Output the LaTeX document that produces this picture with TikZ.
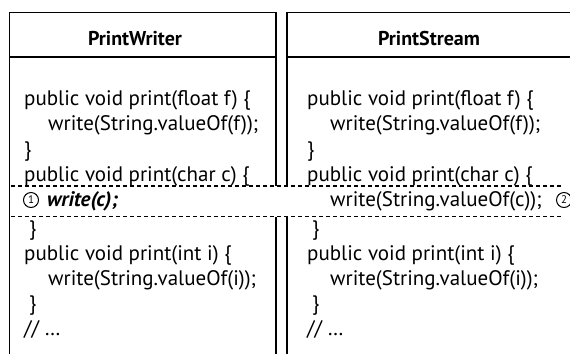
\documentclass[tikz,border=0pt]{standalone}
\usepackage{fontspec}
\setmainfont{PT Sans}
\begin{document}
\begin{tikzpicture}[x=1pt,y=-1pt,
  code/.style={anchor=base west, inner sep=0pt, font=\fontsize{21}{25}\selectfont},
  head/.style={anchor=base, inner sep=0pt, font=\fontsize{20}{24}\selectfont\bfseries},
  frame/.style={line width=1.8pt},
  bandline/.style={dash pattern=on 4pt off 3pt, line width=1.2pt},
  num/.style={circle, draw, line width=1pt, inner sep=0pt, minimum size=15pt, fill=white,
    font=\fontsize{11}{11}\selectfont}]
\useasboundingbox (0,0) rectangle (570,354);

% class frames (open at the bottom)
\draw[frame] (9.5,354) -- (9.5,12.5) -- (276,12.5) -- (276,354);
\draw[frame] (287,354) -- (287,12.5) -- (572,12.5);
\draw[frame] (9.5,57) -- (276,57);
\draw[frame] (287,57) -- (572,57);

% class names
\node[head] (pwname) at (135,45.5) {PrintWriter};
\node[head] (psname) at (429,45.5) {PrintStream};

% highlighted row shared by both classes
\fill[white] (11,186) rectangle (562,216.5);
\draw[bandline] (11,186) -- (562,186);
\draw[bandline] (11,216.5) -- (562,216.5);
\node[num] (m1) at (31,200) {1};
\node[num] (m2) at (564,200) {2};

% PrintWriter source
\node[code] (pw1) at (24,105) {public void print(float f) \{};
\node[code] (pw2) at (48,130.5) {write(String.valueOf(f));};
\node[code] (pw3) at (24,156) {\}};
\node[code] (pw4) at (24,181.5) {public void print(char c) \{};
\node[code] (pw5) at (47,206) {\textbf{\textit{write(c);}}};
\node[code] (pw6) at (29,235) {\}};
\node[code] (pw7) at (24,260) {public void print(int i) \{};
\node[code] (pw8) at (48,285) {write(String.valueOf(i));};
\node[code] (pw9) at (29,310) {\}};
\node[code] (pw10) at (24,335) {// \dots};

% PrintStream source
\node[code] (ps1) at (307,105) {public void print(float f) \{};
\node[code] (ps2) at (330,130.5) {write(String.valueOf(f));};
\node[code] (ps3) at (307,156) {\}};
\node[code] (ps4) at (307,181.5) {public void print(char c) \{};
\node[code] (ps5) at (330,206) {write(String.valueOf(c));};
\node[code] (ps6) at (312,235) {\}};
\node[code] (ps7) at (307,260) {public void print(int i) \{};
\node[code] (ps8) at (330,285) {write(String.valueOf(i));};
\node[code] (ps9) at (312,310) {\}};
\node[code] (ps10) at (307,335) {// \dots};
\end{tikzpicture}
\end{document}
